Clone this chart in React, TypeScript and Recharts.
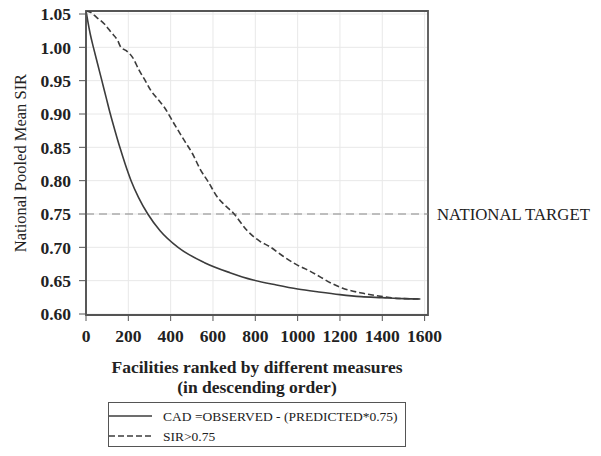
import React from "react";
import {
  CartesianGrid,
  Legend,
  Line,
  LineChart,
  ReferenceArea,
  ReferenceLine,
  XAxis,
  YAxis,
} from "recharts";

// tick labels
const xTicks = [0, 200, 400, 600, 800, 1000, 1200, 1400, 1600];
const yTicks = [0.6, 0.65, 0.7, 0.75, 0.8, 0.85, 0.9, 0.95, 1.0, 1.05];
const nationalTarget = 0.75;

// CAD = OBSERVED - (PREDICTED*0.75)
const cadRank = [0, 8, 20, 35, 55, 75, 95, 115, 137, 160, 185, 213, 248, 292, 350, 435, 560, 680, 790, 900, 1000, 1100, 1200, 1300, 1400, 1500, 1580];
const cadSir = [1.055, 1.04, 1.02, 1.0, 0.975, 0.95, 0.925, 0.9, 0.875, 0.85, 0.825, 0.8, 0.775, 0.75, 0.725, 0.7, 0.677, 0.662, 0.651, 0.6435, 0.6375, 0.633, 0.629, 0.626, 0.6245, 0.623, 0.6225];

// SIR > 0.75
const sirRank = [0, 24, 50, 87, 120, 150, 165, 190, 220, 252, 280, 307, 340, 370, 417, 465, 504, 538, 580, 617, 650, 696, 759, 822, 866, 930, 995, 1060, 1110, 1160, 1210, 1310, 1404, 1468, 1580];
const sirSir = [1.055, 1.052, 1.045, 1.035, 1.022, 1.01, 1.0, 0.995, 0.985, 0.965, 0.95, 0.935, 0.922, 0.91, 0.885, 0.86, 0.84, 0.818, 0.797, 0.777, 0.765, 0.7515, 0.726, 0.709, 0.7015, 0.687, 0.674, 0.664, 0.655, 0.646, 0.639, 0.631, 0.626, 0.6235, 0.6225];

const cadData = cadRank.map((rank, i) => ({ rank, sir: cadSir[i] }));
const sirData = sirRank.map((rank, i) => ({ rank, sir: sirSir[i] }));

const series = [
  { name: "CAD =OBSERVED - (PREDICTED*0.75)", data: cadData, dash: undefined },
  { name: "SIR>0.75", data: sirData, dash: "6 3" },
];

const FONT = "Liberation Serif, Times New Roman, serif";
const INK = "#222";
const LINE = "#3c3c3c";
const X_MAX = 1616;
const Y_MIN = 0.5985;
const Y_MAX = 1.0545;

const renderLegend = () => (
  <svg width={298} height={45} style={{ display: "block" }}>
    <rect x={0.5} y={0.5} width={297} height={44} fill="#fff" stroke="#555" />
    {series.map((s, i) => (
      <g key={s.name}>
        <line x1={1} x2={44} y1={14 + i * 20} y2={14 + i * 20} stroke={LINE} strokeWidth={1.3} strokeDasharray={s.dash} />
        <text x={55} y={18.5 + i * 20} fontFamily={FONT} fontSize={13.5} fill={INK}>
          {s.name}
        </text>
      </g>
    ))}
  </svg>
);

const renderXLabel = (props: any) => {
  const { x, y, width } = props.viewBox;
  const cx = x + width / 2;
  return (
    <text textAnchor="middle" fontFamily={FONT} fontSize={17.5} fontWeight="bold" fill={INK}>
      <tspan x={cx} y={y + 58}>Facilities ranked by different measures</tspan>
      <tspan x={cx} y={y + 78}>(in descending order)</tspan>
    </text>
  );
};

const renderYLabel = (props: any) => {
  const { x, y, height } = props.viewBox;
  const cx = x + 20;
  const cy = y + height / 2;
  return (
    <text x={cx} y={cy} transform={`rotate(-90, ${cx}, ${cy})`} textAnchor="middle" dominantBaseline="central" fontFamily={FONT} fontSize={16.5} fill={INK}>
      National Pooled Mean SIR
    </text>
  );
};

export default function App() {
  return (
    <div style={{ position: "absolute", left: 0, top: 0, width: 601, height: 456, background: "#fff", fontFamily: FONT }}>
      <LineChart width={601} height={456} margin={{ top: 11, right: 173, left: 0, bottom: 0 }}>
        <CartesianGrid stroke="#e8e8e8" strokeWidth={1} />
        <XAxis
          type="number"
          dataKey="rank"
          domain={[0, X_MAX]}
          ticks={xTicks}
          height={141}
          tickSize={6}
          tickMargin={9}
          axisLine={{ stroke: "#555", strokeWidth: 1.5 }}
          tickLine={{ stroke: "#555" }}
          tick={{ fill: INK, fontSize: 17.5, fontWeight: "bold", fontFamily: FONT }}
          allowDataOverflow
          label={{ content: renderXLabel }}
        />
        <YAxis
          type="number"
          dataKey="sir"
          domain={[Y_MIN, Y_MAX]}
          ticks={yTicks}
          width={86}
          tickSize={7}
          tickMargin={8}
          tickFormatter={(v: number) => v.toFixed(2)}
          axisLine={{ stroke: "#555", strokeWidth: 1.5 }}
          tickLine={{ stroke: "#555" }}
          tick={{ fill: INK, fontSize: 17.5, fontWeight: "bold", fontFamily: FONT }}
          allowDataOverflow
          label={{ content: renderYLabel }}
        />
        <ReferenceArea x1={0} x2={X_MAX} y1={Y_MIN} y2={Y_MAX} fill="none" stroke="#555" strokeWidth={1.8} ifOverflow="visible" />
        <ReferenceLine
          y={nationalTarget}
          stroke="#888"
          strokeWidth={1}
          strokeDasharray="8 5"
          label={{ value: "NATIONAL TARGET", position: "right", offset: 9, fill: INK, fontSize: 16.8, fontFamily: FONT }}
        />
        {series.map((s) => (
          <Line
            key={s.name}
            data={s.data}
            dataKey="sir"
            name={s.name}
            type="monotone"
            stroke={LINE}
            strokeWidth={1.6}
            strokeDasharray={s.dash}
            dot={false}
            activeDot={false}
            isAnimationActive={false}
          />
        ))}
        <Legend
          layout="vertical"
          align="center"
          verticalAlign="middle"
          content={renderLegend}
          wrapperStyle={{ left: 108, top: 402, width: 298, height: 45 }}
        />
      </LineChart>
    </div>
  );
}
